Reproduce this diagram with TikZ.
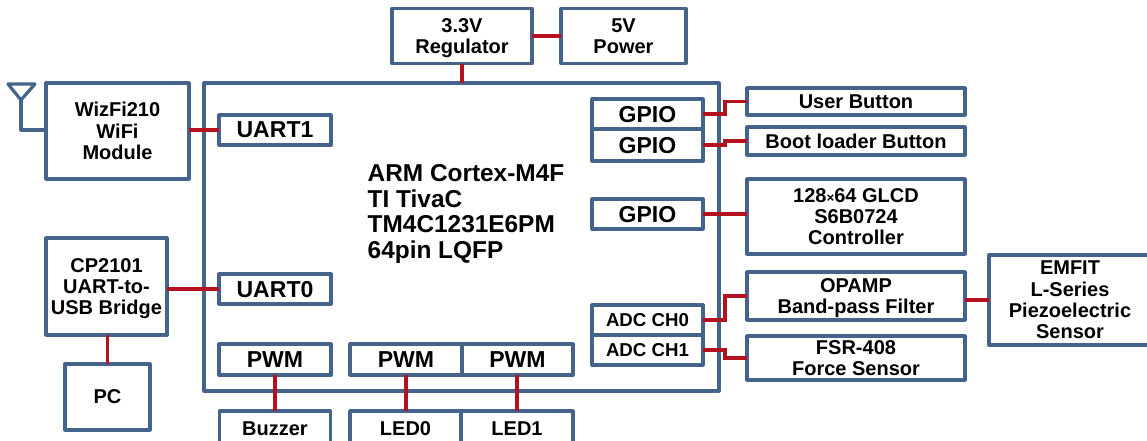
\documentclass[tikz,border=0pt]{standalone}
\usepackage{fontspec}
\setmainfont{Liberation Sans}
\tikzset{
    blockbox/.style 2 args={draw=boxblue, line width=2.4pt, line join=round, fill=white, inner sep=0pt, outer sep=0pt,
        minimum width=#1*0.75pt, minimum height=#2*0.75pt, align=center, text depth=-2pt, font=\bfseries\fontsize{15}{16}\selectfont},
    bigtext/.style={font=\bfseries\fontsize{17.3}{19}\selectfont},
    adctext/.style={font=\bfseries\fontsize{14}{16}\selectfont},
    wire/.style={draw=wirered, line width=2.4pt},
    antline/.style={draw=boxblue, line width=2.4pt, line join=round}
}
\definecolor{boxblue}{HTML}{44648C}
\definecolor{wirered}{HTML}{B5121F}

\begin{document}
\begin{tikzpicture}[x=0.75pt, y=-0.75pt]
    \useasboundingbox (0,0) rectangle (1147,440);

    \node[blockbox={515}{308}] (mcu) at (461.5,237) {};
    \node[anchor=west, align=left, font=\bfseries\fontsize{18.3}{19.2}\selectfont] (mcutext) at (363,214)
        {ARM Cortex-M4F\\TI TivaC\\TM4C1231E6PM\\64pin LQFP};

    \coordinate (stepx) at (725,0);
    \coordinate (anttip) at (21,100);
    \coordinate (antfoot) at (21,130);

    \node[blockbox={140}{55}] (regulator) at (462,36) {3.3V\\Regulator};
    \node[blockbox={125}{55}] (power) at (623.5,36) {5V\\Power};

    \node[blockbox={143}{96}] (wifi) at (117.5,131) {WizFi210\\WiFi\\Module};
    \node[blockbox={121}{97}] (bridge) at (106.5,286.5) {CP2101\\UART-to-\\USB Bridge};
    \node[blockbox={85}{66}] (pc) at (107.5,397) {PC};

    \node[blockbox={112}{30}, bigtext] (uartone) at (275,130) {UART1};
    \node[blockbox={112}{30}, bigtext] (uartzero) at (275,289) {UART0};

    \node[blockbox={112}{31}, bigtext] (pwmbuzzer) at (275,359.5) {PWM};
    \node[blockbox={112}{31}, bigtext] (pwmzero) at (406,359.5) {PWM};
    \node[blockbox={111}{31}, bigtext] (pwmone) at (517.5,359.5) {PWM};
    \node[blockbox={111}{36}] (buzzer) at (275,429) {Buzzer};
    \node[blockbox={111}{36}] (ledzero) at (405.5,429) {LED0};
    \node[blockbox={112}{36}] (ledone) at (517,429) {LED1};

    \node[blockbox={111}{30}, bigtext] (gpioa) at (647.5,114) {GPIO};
    \node[blockbox={111}{32}, bigtext] (gpiob) at (647.5,145) {GPIO};
    \node[blockbox={111}{30}, bigtext] (gpioc) at (647.5,214) {GPIO};
    \node[blockbox={111}{30}, adctext] (adczero) at (647.5,320) {ADC CH0};
    \node[blockbox={111}{30}, adctext] (adcone) at (647.5,350) {ADC CH1};

    \node[blockbox={218}{27}] (userbtn) at (856,101.5) {User Button};
    \node[blockbox={218}{28}] (bootbtn) at (856,141) {Boot loader Button};
    \node[blockbox={218}{75}] (glcd) at (856,216.5) {128{\fontsize{10}{10}\selectfont ×}64 GLCD\\S6B0724\\Controller};
    \node[blockbox={218}{48}] (opamp) at (856,296) {OPAMP\\Band-pass Filter};
    \node[blockbox={218}{44}] (fsr) at (856,358) {FSR-408\\Force Sensor};
    \node[blockbox={162}{90}] (emfit) at (1070,300) {EMFIT\\L-Series\\Piezoelectric\\Sensor};

    \draw[antline] (8,84) -- (35,84) -- (anttip) -- cycle;
    \draw[antline] (anttip) -- (antfoot) -- (antfoot -| wifi.west);

    \draw[wire] (regulator) -- (power);
    \draw[wire] (regulator.south) -- (regulator.south |- mcu.north);
    \draw[wire] (wifi.east |- uartone.west) -- (uartone.west);
    \draw[wire] (bridge.east |- uartzero.west) -- (uartzero.west);
    \draw[wire] (bridge.south -| pc.north) -- (pc.north);

    \draw[wire] (pwmbuzzer.south) -- (buzzer.north);
    \draw[wire] (pwmzero.south) -- (pwmzero.south |- ledzero.north);
    \draw[wire] (pwmone.south -| ledone.north) -- (ledone.north);

    \draw[wire] (gpioa.east) -- (gpioa.east -| stepx) |- (userbtn.west);
    \draw[wire] (gpiob.east) -- (gpiob.east -| stepx) |- (bootbtn.west);
    \draw[wire] (gpioc.east) -- (gpioc.east -| glcd.west);
    \draw[wire] (adczero.east) -- (adczero.east -| stepx) |- (opamp.west);
    \draw[wire] (adcone.east) -- (adcone.east -| stepx) |- (fsr.west);
    \draw[wire] (opamp.east |- emfit.west) -- (emfit.west);
\end{tikzpicture}
\end{document}
